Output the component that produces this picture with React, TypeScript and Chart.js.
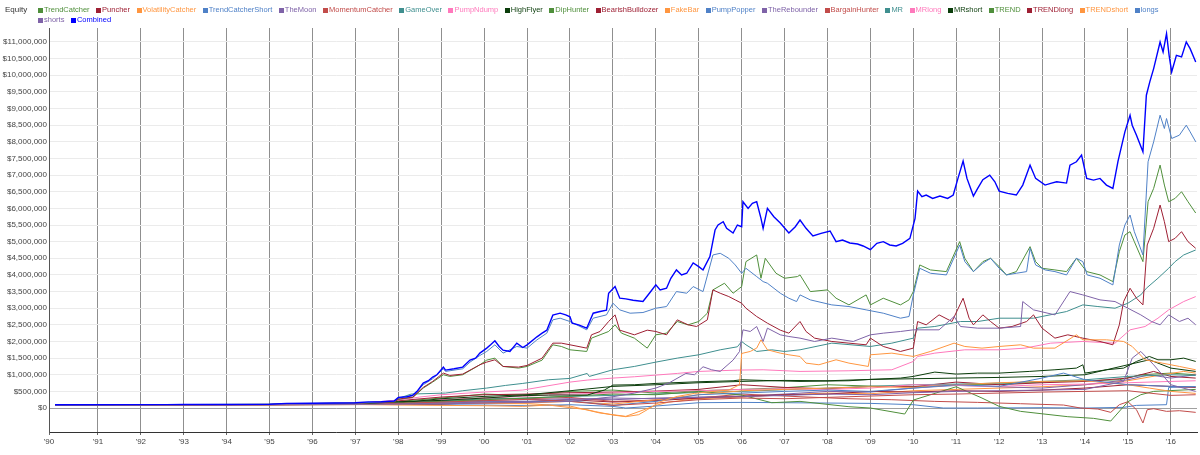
import React, { useEffect, useRef } from "react";
import { Chart, registerables } from "chart.js";

Chart.register(...registerables);

type P = [number, number];

// ---- axis ranges and tick labels ----
const X_MIN = 1989.86;
const X_MAX = 2016.61;
const Y_MIN = -720000;
const Y_MAX = 11420000;
const YEAR_TICKS = [1991, 1992, 1993, 1994, 1995, 1996, 1997, 1998, 1999, 2000, 2001, 2002, 2003, 2004, 2005, 2006, 2007, 2008, 2009, 2010, 2011, 2012, 2013, 2014, 2015, 2016];
const YEAR_LABELS = ["'91", "'92", "'93", "'94", "'95", "'96", "'97", "'98", "'99", "'00", "'01", "'02", "'03", "'04", "'05", "'06", "'07", "'08", "'09", "'10", "'11", "'12", "'13", "'14", "'15", "'16"];
const FIRST_LABEL = "'90";
const Y_TICKS = [0, 500000, 1000000, 1500000, 2000000, 2500000, 3000000, 3500000, 4000000, 4500000, 5000000, 5500000, 6000000, 6500000, 7000000, 7500000, 8000000, 8500000, 9000000, 9500000, 10000000, 10500000, 11000000];

// ---- series values: [year, equity in $ thousands] ----
const TRENDCATCHER: P[] = [[1990, 100], [1995, 105], [1997, 130], [1998, 200], [1999, 300], [2000, 420], [2001, 380], [2002, 500], [2003, 540], [2004, 450], [2005, 520], [2006, 560], [2007, 610], [2008, 700], [2009, 660], [2010, 640], [2011, 700], [2012, 720], [2013, 780], [2014, 820], [2014.8, 850], [2015.3, 1000], [2016, 1050], [2016.58, 1000]];
const PUNCHER: P[] = [[1990, 100], [1995, 108], [1997, 140], [1998, 220], [1999, 330], [2000, 400], [2001, 420], [2002, 460], [2003, 480], [2004, 510], [2005, 560], [2006, 700], [2007, 620], [2008, 580], [2009, 650], [2010, 640], [2011, 780], [2012, 700], [2013, 760], [2014, 800], [2015, 900], [2015.6, 1100], [2016, 950], [2016.58, 900]];
const VOLATILITYCATCHER: P[] = [[1990, 100], [1995, 100], [1997, 110], [1998, 130], [1999, 150], [2000, 140], [2001, 130], [2002, 60], [2002.7, -150], [2003.3, -250], [2004, 80], [2004.3, 180], [2005, 280], [2006, 330], [2007, 400], [2008, 450], [2009, 430], [2010, 520], [2011, 560], [2012, 600], [2013, 640], [2014, 700], [2015, 820], [2015.8, 1000], [2016.3, 1100], [2016.58, 1050]];
const TRENDCATCHERSHORT: P[] = [[1990, 100], [1995, 100], [1997, 105], [1998, 110], [1999, 100], [2000, 90], [2001, 70], [2002, 100], [2003, 50], [2003.3, 0], [2004, 60], [2005, 160], [2006, 170], [2007, 160], [2008, 150], [2009, 140], [2010, 100], [2010.7, 0], [2011.5, 0], [2013, 10], [2014, 0], [2014.9, 20], [2015.2, 80], [2015.9, 100], [2015.95, 620], [2016.58, 640]];
const THEMOON: P[] = [[1990, 100], [1995, 105], [1997, 115], [1998, 150], [1999, 200], [2000, 230], [2001, 250], [2002, 280], [2003, 250], [2004, 300], [2005, 330], [2006, 360], [2007, 420], [2008, 500], [2009, 480], [2010, 600], [2011, 680], [2012, 640], [2013, 600], [2014, 700], [2015, 850], [2015.5, 1000], [2016, 900], [2016.58, 1000]];
const MOMENTUMCATCHER: P[] = [[1990, 100], [1995, 105], [1997, 120], [1998, 170], [1999, 240], [2000, 300], [2001, 280], [2002, 320], [2003, 200], [2004, 240], [2005, 300], [2006, 420], [2007.36, 340], [2008.5, 280], [2009.5, 250], [2010.5, 200], [2011.5, 170], [2012.5, 130], [2013.5, 90], [2013.9, 0], [2014.3, -30], [2014.6, -130], [2014.8, 100], [2015, 190], [2015.2, -50], [2015.35, -450], [2015.45, -50], [2015.6, -20], [2015.9, -100], [2016.2, -80], [2016.58, -130]];
const GAMEOVER: P[] = [[1990, 100], [1995, 110], [1997, 130], [1998, 180], [1999, 220], [2000, 270], [2001, 300], [2002, 350], [2003, 380], [2004, 420], [2005, 470], [2006, 500], [2007, 550], [2008, 600], [2009, 650], [2010, 700], [2011, 720], [2012, 750], [2013, 800], [2014, 850], [2015, 950], [2016, 1000], [2016.58, 980]];
const PUMPNDUMP: P[] = [[1990, 100], [1995, 102], [1997, 110], [1998, 150], [1999, 250], [2000, 300], [2001, 360], [2002, 420], [2003, 450], [2004, 500], [2005, 520], [2006, 560], [2007, 580], [2008, 560], [2009, 600], [2010, 700], [2011, 680], [2012, 650], [2013, 700], [2014, 720], [2015, 760], [2016, 800], [2016.58, 820]];
const HIGHFLYER: P[] = [[1990, 100], [1995, 102], [1997, 110], [1998, 150], [1999, 280], [2000, 350], [2001, 400], [2002, 520], [2003, 650], [2004, 700], [2005, 760], [2006, 800], [2007, 830], [2008, 820], [2009, 860], [2010, 880], [2011, 900], [2012, 920], [2013, 950], [2014, 1000], [2015, 1300], [2015.5, 1450], [2016, 1200], [2016.58, 1100]];
const DIPHUNTER: P[] = [[1990, 100], [1995, 105], [1997, 120], [1998, 150], [1999, 200], [2000, 250], [2001, 300], [2002, 360], [2003, 420], [2004, 400], [2005, 500], [2006, 390], [2006.7, 160], [2007.36, 200], [2008.5, 40], [2009, 0], [2009.8, -180], [2010, 240], [2011, 640], [2011.6, 300], [2012, 50], [2012.5, -100], [2013.6, -260], [2014.2, -310], [2014.6, -390], [2015, 190], [2015.3, 400], [2015.6, 500], [2016.58, 560]];
const BEARISHBULLDOZER: P[] = [[1990, 100], [1995, 100], [1997, 105], [1998, 110], [1999, 120], [2000, 160], [2001, 180], [2002, 250], [2003, 180], [2004, 220], [2005, 300], [2006, 350], [2007, 400], [2008, 420], [2009, 500], [2010, 480], [2011, 520], [2012, 500], [2013, 540], [2014, 600], [2015, 700], [2016, 650], [2016.58, 620]];
const FAKEBAR: P[] = [[1990, 100], [1995, 100], [1997, 105], [1998, 120], [1999, 140], [2000, 160], [2001, 150], [2002, 200], [2003, 120], [2004, 250], [2005, 400], [2006, 520], [2007, 560], [2008, 600], [2009, 640], [2010, 620], [2011, 700], [2012, 760], [2013, 800], [2014, 820], [2015, 700], [2015.5, 600], [2016, 500], [2016.58, 440]];
const PUMPPOPPER: P[] = [[1990, 100], [1995, 100], [1997, 110], [1998, 130], [1999, 170], [2000, 200], [2001, 190], [2002, 220], [2003, 80], [2004, 200], [2005, 400], [2006, 450], [2007, 500], [2008, 540], [2009, 500], [2010, 600], [2011, 700], [2012, 650], [2013, 900], [2013.5, 1050], [2014, 850], [2015, 700], [2016, 650], [2016.58, 640]];
const THEREBOUNDER: P[] = [[1990, 100], [1995, 100], [1997, 105], [1998, 120], [1999, 150], [2000, 180], [2001, 200], [2002, 260], [2003, 300], [2004, 280], [2005, 320], [2006, 340], [2007, 380], [2008, 420], [2009, 400], [2010, 460], [2011, 500], [2012, 520], [2013, 540], [2014, 560], [2014.9, 800], [2015.1, 1500], [2015.3, 1700], [2015.6, 1300], [2016, 700], [2016.58, 500]];
const BARGAINHUNTER: P[] = [[1990, 100], [1995, 102], [1997, 110], [1998, 140], [1999, 180], [2000, 220], [2001, 260], [2002, 200], [2003, 80], [2004, 150], [2005, 250], [2006, 300], [2007, 280], [2008, 320], [2009, 360], [2010, 400], [2011, 420], [2012, 450], [2013, 480], [2014, 500], [2015, 520], [2016, 380], [2016.58, 400]];
const MR: P[] = [[1990, 100], [1995, 110], [1997, 140], [1997.9, 180], [1998, 290], [1998.3, 420], [1999.1, 450], [1999.5, 520], [2000.06, 600], [2000.5, 680], [2000.9, 740], [2001.5, 850], [2002, 890], [2002.4, 1040], [2002.45, 950], [2003, 1150], [2003.5, 1250], [2004, 1380], [2004.5, 1500], [2005, 1600], [2005.5, 1750], [2005.9, 1840], [2006, 2000], [2006.1, 1900], [2006.35, 1700], [2006.7, 1750], [2007, 1700], [2007.36, 1750], [2008.1, 1950], [2009, 1850], [2009.5, 1950], [2010, 2100], [2010.1, 2400], [2010.5, 2450], [2011.1, 2600], [2011.5, 2600], [2012, 2700], [2012.8, 2700], [2013.57, 2900], [2013.95, 3100], [2014.3, 3050], [2014.7, 3000], [2015, 3150], [2015.3, 3400], [2015.43, 3600], [2015.7, 3900], [2015.95, 4200], [2016.1, 4400], [2016.3, 4600], [2016.58, 4750]];
const MRLONG: P[] = [[1990, 100], [1995, 105], [1997, 130], [1998, 240], [1998.5, 330], [1999, 400], [2000, 480], [2000.9, 540], [2002, 780], [2002.4, 840], [2003, 900], [2003.5, 940], [2004, 990], [2004.5, 1040], [2005, 1100], [2005.9, 1140], [2006.5, 1150], [2007.36, 1100], [2008.5, 1120], [2009.5, 1150], [2010, 1400], [2010.1, 1550], [2010.5, 1650], [2011.2, 1750], [2012, 1750], [2012.6, 1800], [2013.2, 1950], [2013.95, 2000], [2014.7, 1950], [2015.05, 2350], [2015.4, 2450], [2015.7, 2700], [2015.95, 2950], [2016.3, 3200], [2016.58, 3350]];
const MRSHORT: P[] = [[1990, 100], [1995, 105], [1997, 110], [1998, 190], [1999, 230], [2000, 300], [2000.9, 370], [2001.5, 390], [2002.4, 390], [2002.8, 540], [2003, 690], [2003.5, 700], [2004, 740], [2005, 790], [2005.8, 820], [2006, 850], [2006.5, 830], [2007.36, 800], [2008.5, 820], [2009, 860], [2009.7, 900], [2010, 950], [2010.5, 1080], [2011, 1020], [2011.5, 1050], [2012, 1050], [2012.7, 1100], [2013.3, 1150], [2013.8, 1200], [2013.95, 1300], [2014, 1050], [2014.5, 1150], [2014.9, 1200], [2015.2, 1400], [2015.5, 1550], [2015.7, 1450], [2016, 1450], [2016.3, 1500], [2016.58, 1400]];
const TREND: P[] = [[1990, 100], [1995, 108], [1995.4, 130], [1997, 145], [1997.9, 180], [1998, 260], [1998.34, 320], [1998.58, 600], [1998.8, 780], [1999.05, 1000], [1999.2, 950], [1999.5, 1000], [1999.7, 1150], [1999.9, 1300], [2000.06, 1440], [2000.25, 1500], [2000.44, 1250], [2000.8, 1200], [2001, 1250], [2001.35, 1440], [2001.6, 1900], [2001.8, 1850], [2002, 1750], [2002.39, 1700], [2002.5, 2100], [2002.7, 2200], [2002.9, 2300], [2003.05, 2500], [2003.2, 2250], [2003.5, 2100], [2003.8, 1800], [2004, 2200], [2004.25, 2250], [2004.5, 2600], [2004.75, 2500], [2005, 2600], [2005.2, 2850], [2005.33, 3550], [2005.6, 3750], [2005.8, 3450], [2006, 3650], [2006.1, 4400], [2006.35, 4600], [2006.45, 3900], [2006.55, 4500], [2006.8, 4050], [2007, 3900], [2007.3, 3950], [2007.36, 4000], [2007.6, 3500], [2008, 3550], [2008.2, 3300], [2008.5, 3100], [2008.9, 3400], [2009, 3100], [2009.3, 3300], [2009.7, 3100], [2009.9, 3250], [2010, 3500], [2010.15, 4300], [2010.4, 4150], [2010.77, 4100], [2011.08, 5000], [2011.2, 4500], [2011.4, 4100], [2011.62, 4400], [2011.8, 4500], [2012, 4250], [2012.17, 4000], [2012.4, 4100], [2012.72, 4850], [2012.85, 4400], [2013, 4200], [2013.3, 4150], [2013.57, 4100], [2013.8, 4500], [2014.04, 4100], [2014.35, 4000], [2014.65, 3800], [2014.8, 4700], [2014.93, 5200], [2015.05, 5300], [2015.15, 5000], [2015.35, 4400], [2015.47, 6200], [2015.6, 6600], [2015.75, 7300], [2015.85, 6700], [2015.95, 6200], [2016.1, 6300], [2016.25, 6500], [2016.4, 6200], [2016.58, 5860]];
const TRENDLONG: P[] = [[1990, 100], [1995, 108], [1995.4, 130], [1997, 145], [1997.9, 185], [1998, 270], [1998.34, 330], [1998.58, 620], [1998.8, 800], [1999.05, 1050], [1999.2, 980], [1999.5, 1020], [1999.9, 1300], [2000.06, 1380], [2000.25, 1450], [2000.44, 1250], [2000.8, 1230], [2001, 1280], [2001.35, 1500], [2001.6, 1950], [2001.8, 1950], [2002, 1900], [2002.39, 1800], [2002.5, 2200], [2002.7, 2300], [2002.9, 2600], [2003.05, 2800], [2003.16, 2340], [2003.5, 2200], [2003.8, 2340], [2004, 2300], [2004.25, 2200], [2004.5, 2650], [2004.75, 2500], [2004.95, 2450], [2005.2, 2650], [2005.33, 3550], [2005.5, 3450], [2005.7, 3350], [2005.85, 3250], [2006, 3150], [2006.1, 3000], [2006.35, 2750], [2006.6, 2550], [2006.9, 2340], [2007.1, 2250], [2007.36, 2600], [2007.5, 2300], [2007.7, 2100], [2008.1, 2000], [2008.5, 1950], [2008.9, 1900], [2009, 2100], [2009.3, 1850], [2009.7, 1700], [2010, 1800], [2010.1, 2600], [2010.3, 2500], [2010.6, 2800], [2010.9, 2600], [2011.16, 3300], [2011.3, 2700], [2011.4, 2500], [2011.62, 2800], [2011.8, 2600], [2012, 2400], [2012.3, 2450], [2012.64, 2600], [2012.8, 2800], [2013, 2400], [2013.3, 2100], [2013.6, 2200], [2013.95, 2100], [2014.35, 2000], [2014.65, 1900], [2014.8, 2500], [2014.9, 3200], [2015.05, 3600], [2015.2, 3300], [2015.35, 3100], [2015.45, 4900], [2015.6, 5400], [2015.75, 6100], [2015.85, 5600], [2015.95, 5000], [2016.1, 5100], [2016.25, 5300], [2016.4, 5000], [2016.58, 4800]];
const TRENDSHORT: P[] = [[1990, 100], [1995, 100], [1997, 105], [1998, 90], [1999, 80], [2000, 70], [2000.9, 50], [2001.5, 90], [2002.4, -50], [2002.6, -110], [2003, -210], [2003.3, -260], [2003.6, -200], [2003.8, -50], [2004.1, 190], [2004.5, 350], [2004.9, 440], [2005.2, 480], [2005.7, 540], [2005.95, 700], [2006, 1640], [2006.2, 1700], [2006.35, 1800], [2006.45, 2050], [2006.6, 1750], [2006.9, 1650], [2007.1, 1600], [2007.36, 1550], [2007.5, 1350], [2007.8, 1300], [2008.2, 1450], [2008.5, 1350], [2008.95, 1250], [2009, 1600], [2009.5, 1650], [2010, 1550], [2010.4, 1700], [2010.95, 1950], [2011.2, 1850], [2011.6, 1800], [2012, 1850], [2012.5, 1900], [2012.8, 1800], [2013.3, 1800], [2013.8, 2200], [2013.95, 2050], [2014.5, 2050], [2014.9, 2000], [2015.1, 1850], [2015.4, 1450], [2015.8, 1350], [2016.2, 1250], [2016.58, 1150]];
const LONGS: P[] = [[1990, 100], [1995, 110], [1995.4, 135], [1997, 150], [1997.9, 200], [1998, 300], [1998.34, 370], [1998.58, 700], [1998.8, 880], [1999.05, 1180], [1999.1, 1100], [1999.5, 1180], [1999.67, 1380], [1999.9, 1580], [2000.06, 1700], [2000.25, 1900], [2000.44, 1650], [2000.76, 1850], [2001, 1800], [2001.23, 2050], [2001.46, 2250], [2001.6, 2650], [2001.77, 2700], [2002, 2600], [2002.39, 2350], [2002.54, 2700], [2002.85, 2800], [2003, 3150], [2003.16, 2950], [2003.4, 2850], [2003.7, 2870], [2004, 3000], [2004.25, 3050], [2004.48, 3500], [2004.72, 3450], [2004.87, 3650], [2005.1, 3500], [2005.33, 4600], [2005.5, 4650], [2005.7, 4500], [2005.85, 4300], [2006, 4050], [2006.1, 4200], [2006.35, 3950], [2006.5, 3800], [2006.6, 3750], [2006.9, 3450], [2007.1, 3300], [2007.28, 3200], [2007.36, 3400], [2007.6, 3250], [2008.1, 3100], [2008.5, 3050], [2008.9, 2950], [2009.3, 2850], [2009.7, 2700], [2009.9, 2750], [2010, 3400], [2010.15, 4200], [2010.4, 4050], [2010.77, 4000], [2011.08, 4900], [2011.2, 4400], [2011.4, 4100], [2011.62, 4350], [2011.8, 4500], [2012, 4200], [2012.17, 4000], [2012.4, 4050], [2012.64, 4100], [2012.72, 4800], [2012.85, 4300], [2013.07, 4150], [2013.3, 4100], [2013.57, 4000], [2013.8, 4500], [2013.95, 4400], [2014.05, 4000], [2014.35, 3900], [2014.65, 3700], [2014.8, 4900], [2014.93, 5500], [2015.05, 5800], [2015.15, 5300], [2015.35, 4600], [2015.47, 7400], [2015.6, 8000], [2015.75, 8800], [2015.85, 8400], [2015.9, 8700], [2016.02, 8100], [2016.2, 8200], [2016.36, 8500], [2016.45, 8300], [2016.58, 8000]];
const SHORTS: P[] = [[1990, 100], [1995, 104], [1997, 110], [1998, 120], [1999, 130], [2000, 150], [2001, 170], [2002, 200], [2003, 340], [2003.5, 450], [2004, 600], [2004.3, 750], [2004.7, 1040], [2004.9, 1000], [2005.1, 1240], [2005.3, 1150], [2005.5, 1100], [2005.8, 1440], [2005.95, 1700], [2006.03, 2350], [2006.2, 2300], [2006.35, 2450], [2006.5, 2000], [2006.6, 2400], [2006.9, 2200], [2007.1, 2150], [2007.36, 2100], [2007.7, 2000], [2008.1, 2100], [2008.6, 2000], [2009, 2200], [2009.3, 2250], [2009.7, 2300], [2010, 2350], [2010.6, 2350], [2010.95, 2750], [2011.1, 2450], [2011.5, 2400], [2012, 2400], [2012.5, 2450], [2012.55, 3200], [2012.8, 2950], [2013.3, 2800], [2013.65, 3500], [2013.95, 3400], [2014.35, 3250], [2014.7, 3200], [2015, 3000], [2015.3, 2800], [2015.55, 2600], [2015.75, 2500], [2015.95, 2800], [2016.2, 2600], [2016.4, 2700], [2016.58, 2500]];
const COMBINED: P[] = [[1990, 100], [1992.6, 102], [1993, 105], [1994, 108], [1995, 112], [1995.4, 140], [1996, 145], [1996.5, 150], [1997, 160], [1997.3, 185], [1997.6, 190], [1997.9, 210], [1998, 320], [1998.2, 340], [1998.34, 390], [1998.45, 520], [1998.58, 750], [1998.7, 820], [1998.8, 930], [1998.9, 1000], [1999.05, 1230], [1999.1, 1140], [1999.3, 1180], [1999.5, 1230], [1999.67, 1440], [1999.8, 1500], [1999.9, 1650], [2000.06, 1800], [2000.15, 1900], [2000.25, 2020], [2000.35, 1850], [2000.44, 1740], [2000.6, 1700], [2000.76, 1950], [2000.9, 1820], [2001, 1900], [2001.23, 2140], [2001.35, 2250], [2001.46, 2340], [2001.6, 2790], [2001.77, 2850], [2001.9, 2800], [2002, 2740], [2002.05, 2550], [2002.2, 2500], [2002.39, 2400], [2002.54, 2850], [2002.7, 2900], [2002.85, 2940], [2002.9, 3450], [2003.05, 3650], [2003.16, 3300], [2003.3, 3280], [2003.47, 3240], [2003.7, 3200], [2003.85, 3450], [2004, 3700], [2004.1, 3550], [2004.25, 3600], [2004.35, 3900], [2004.48, 4150], [2004.6, 4000], [2004.72, 4050], [2004.87, 4360], [2005, 4250], [2005.1, 4150], [2005.26, 4550], [2005.38, 5350], [2005.45, 5500], [2005.57, 5600], [2005.65, 5400], [2005.8, 5260], [2005.9, 5500], [2006, 5450], [2006.03, 6200], [2006.15, 6000], [2006.25, 6150], [2006.35, 6200], [2006.45, 5700], [2006.5, 5400], [2006.6, 6000], [2006.75, 5750], [2006.9, 5560], [2007.1, 5260], [2007.25, 5450], [2007.36, 5650], [2007.5, 5400], [2007.66, 5170], [2007.85, 5250], [2008.06, 5320], [2008.2, 5000], [2008.35, 5050], [2008.52, 4960], [2008.7, 4930], [2008.83, 4870], [2009, 4760], [2009.15, 4950], [2009.3, 5000], [2009.45, 4900], [2009.6, 4870], [2009.75, 4950], [2009.92, 5100], [2010.04, 5700], [2010.1, 6520], [2010.2, 6350], [2010.3, 6400], [2010.45, 6300], [2010.62, 6370], [2010.8, 6300], [2010.93, 6400], [2011.04, 6900], [2011.16, 7420], [2011.25, 6900], [2011.4, 6370], [2011.5, 6600], [2011.62, 6860], [2011.78, 7000], [2011.9, 6800], [2012, 6520], [2012.2, 6450], [2012.4, 6400], [2012.55, 6700], [2012.72, 7300], [2012.85, 6900], [2013.07, 6700], [2013.2, 6750], [2013.34, 6800], [2013.57, 6760], [2013.65, 7300], [2013.8, 7400], [2013.92, 7600], [2014.04, 6900], [2014.2, 6850], [2014.35, 6900], [2014.5, 6700], [2014.65, 6600], [2014.77, 7420], [2014.93, 8300], [2015.05, 8800], [2015.1, 8500], [2015.2, 8200], [2015.35, 7700], [2015.43, 9400], [2015.51, 9800], [2015.6, 10200], [2015.75, 11000], [2015.82, 10700], [2015.9, 11250], [2015.96, 10600], [2016.02, 10100], [2016.13, 10600], [2016.25, 10550], [2016.36, 11000], [2016.45, 10800], [2016.58, 10400]];

const NAMES = ["TrendCatcher", "Puncher", "VolatilityCatcher", "TrendCatcherShort", "TheMoon", "MomentumCatcher", "GameOver", "PumpNdump", "HighFlyer", "DipHunter", "BearishBulldozer", "FakeBar", "PumpPopper", "TheRebounder", "BargainHunter", "MR", "MRlong", "MRshort", "TREND", "TRENDlong", "TRENDshort", "longs", "shorts", "Combined"];
const VALUES: P[][] = [TRENDCATCHER, PUNCHER, VOLATILITYCATCHER, TRENDCATCHERSHORT, THEMOON, MOMENTUMCATCHER, GAMEOVER, PUMPNDUMP, HIGHFLYER, DIPHUNTER, BEARISHBULLDOZER, FAKEBAR, PUMPPOPPER, THEREBOUNDER, BARGAINHUNTER, MR, MRLONG, MRSHORT, TREND, TRENDLONG, TRENDSHORT, LONGS, SHORTS, COMBINED];

const GREEN = "#4f8f3b";
const DARKRED = "#9e1f33";
const ORANGE = "#ff9640";
const STEEL = "#4f81c7";
const PURPLE = "#7f63a8";
const RED = "#c24c4a";
const TEAL = "#3f8f8f";
const PINK = "#ff79bc";
const DKGREEN = "#0b3d0b";
const COLORS = [GREEN, DARKRED, ORANGE, STEEL, PURPLE, RED, TEAL, PINK, DKGREEN, GREEN, DARKRED, ORANGE, STEEL, PURPLE, RED, TEAL, PINK, DKGREEN, GREEN, DARKRED, ORANGE, STEEL, PURPLE, "#0000ff"];

const FONT = '"Liberation Sans", Arial, sans-serif';

function fmtMoney(v: number): string {
  return "$" + Math.round(v).toLocaleString("en-US");
}

export default function App() {
  const ref = useRef<HTMLCanvasElement | null>(null);

  useEffect(() => {
    document.body.style.margin = "0";
    const canvas = ref.current;
    if (!canvas) return;
    const n = NAMES.length;
    const datasets = NAMES.map((name, i) => ({
      label: name,
      data: VALUES[i].map(([x, y]) => ({ x, y: y * 1000 })),
      borderColor: COLORS[i],
      backgroundColor: COLORS[i],
      borderWidth: name === "Combined" ? 1.4 : 1,
      pointRadius: 0,
      pointHoverRadius: 0,
      tension: 0,
      fill: false,
      order: n - i,
    }));
    const chart = new Chart(canvas, {
      type: "line",
      data: { datasets },
      options: {
        animation: false,
        responsive: false,
        maintainAspectRatio: false,
        parsing: false as any,
        events: [],
        layout: { padding: { top: 28, right: 3, left: 0, bottom: 0 } },
        plugins: { legend: { display: false }, tooltip: { enabled: false } },
        scales: {
          x: {
            type: "linear",
            min: X_MIN,
            max: X_MAX,
            afterBuildTicks: (scale: any) => {
              scale.ticks = [{ value: X_MIN }, ...YEAR_TICKS.map((v) => ({ value: v }))];
            },
            afterFit: (scale: any) => {
              scale.height = 23;
            },
            ticks: {
              autoSkip: false,
              maxRotation: 0,
              padding: 2,
              color: "#444",
              font: { family: FONT, size: 8 },
              callback: (v: any) => {
                if (v === X_MIN) return FIRST_LABEL;
                const idx = YEAR_TICKS.indexOf(v);
                return idx >= 0 ? YEAR_LABELS[idx] : "";
              },
            },
            grid: {
              color: "#8f8f8f",
              lineWidth: 1,
              drawTicks: true,
              tickLength: 3,
              tickColor: "#666",
            },
            border: { display: true, color: "#333", width: 1 },
          },
          y: {
            type: "linear",
            min: Y_MIN,
            max: Y_MAX,
            afterBuildTicks: (scale: any) => {
              scale.ticks = Y_TICKS.map((v) => ({ value: v }));
            },
            afterFit: (scale: any) => {
              scale.width = 49;
            },
            ticks: {
              autoSkip: false,
              padding: 2,
              color: "#444",
              font: { family: FONT, size: 8 },
              callback: (v: any) => fmtMoney(Number(v)),
            },
            grid: {
              drawTicks: false,
              color: (ctx: any) => (ctx.tick && ctx.tick.value === 0 ? "#a0a0a0" : "#ebebeb"),
              lineWidth: 1,
            },
            border: { display: true, color: "#555", width: 1 },
          },
        },
      },
    });
    return () => chart.destroy();
  }, []);

  const row1 = NAMES.slice(0, 22);
  const row2 = NAMES.slice(22);
  const item = (name: string) => {
    const i = NAMES.indexOf(name);
    return (
      <span key={name} style={{ display: "inline-flex", alignItems: "center", marginRight: 6.5, color: COLORS[i] }}>
        <span style={{ display: "inline-block", width: 5, height: 5, background: COLORS[i], marginRight: 1 }} />
        {name}
      </span>
    );
  };

  return (
    <div style={{ position: "relative", width: 1200, height: 455, overflow: "hidden", background: "#fff" }}>
      <canvas ref={ref} width={1200} height={455} style={{ position: "absolute", left: 0, top: 0, width: 1200, height: 455 }} />
      <div style={{ position: "absolute", left: 5, top: 5, font: `8px ${FONT}`, lineHeight: "10px", color: "#333" }}>Equity</div>
      <div style={{ position: "absolute", left: 38, top: 5, font: `7.5px ${FONT}`, lineHeight: "10px", whiteSpace: "nowrap" }}>
        <div style={{ display: "flex", height: 10 }}>{row1.map(item)}</div>
        <div style={{ display: "flex", height: 10 }}>{row2.map(item)}</div>
      </div>
    </div>
  );
}
